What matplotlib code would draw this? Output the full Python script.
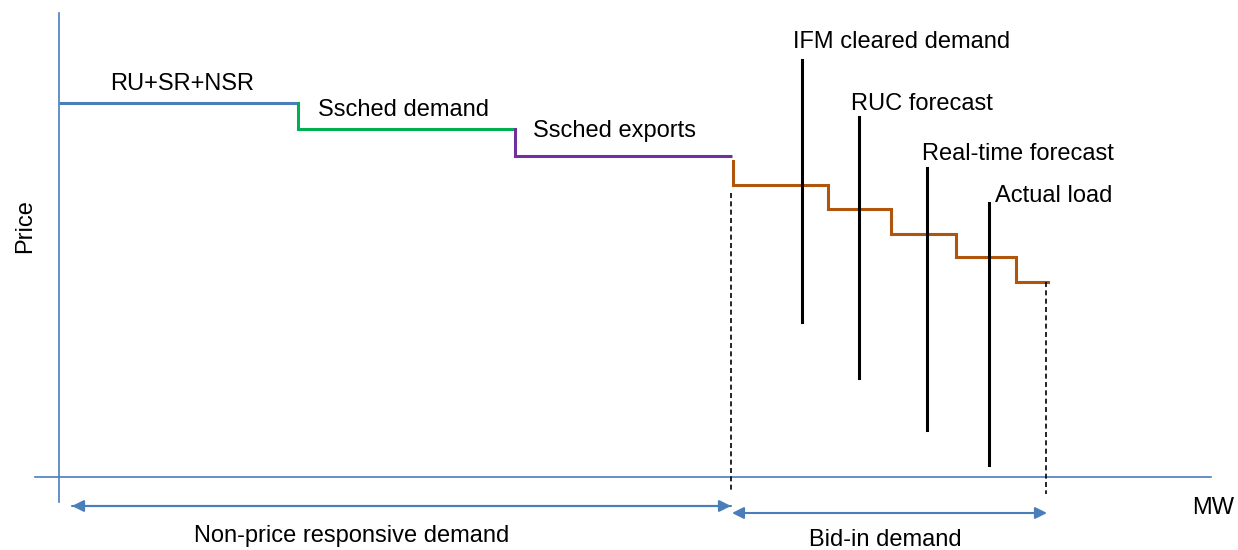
import matplotlib
matplotlib.use('Agg')
from matplotlib import pyplot as plt

plt.rcParams['font.family'] = ['Liberation Sans', 'DejaVu Sans']

# Fixed-demand blocks: (start MW, end MW, price)
fixed_names = ['RU+SR+NSR', 'Ssched demand', 'Ssched exports']
fixed_start = [0, 239, 456]
fixed_end = [239, 456, 673]
fixed_price = [374, 348, 321]
fixed_colors = ['#4a7ebb', '#00b050', '#7030a0']

# Bid-in demand curve (step breakpoints and prices)
bid_mw = [674, 769, 832, 897, 957, 989]
bid_price = [292, 268, 243, 220, 195]
bid_cap = 316

# Demand quantities marked by vertical bars
marker_names = ['IFM cleared demand', 'RUC forecast', 'Real-time forecast', 'Actual load']
marker_mw = [743, 800, 868, 930]
marker_top = [417, 360, 309, 274]
marker_bottom = [155, 99, 47, 12]

BLUE = '#4a7ebb'
ORANGE = '#b0560c'
FS = 17

fig = plt.figure(figsize=(12.38, 5.5), dpi=100)
ax = fig.add_axes([0, 0, 1, 1])
ax.set_xlim(-59, 1179)
ax.set_ylim(-73, 477)
ax.axis('off')

# Axes lines.
ax.plot([0, 0], [-25, 464], color=BLUE, lw=1.2)
ax.plot([-24, 1152], [0, 0], color=BLUE, lw=1.2)

# Fixed blocks with vertical connectors.
for k in range(len(fixed_names)):
    ax.plot([fixed_start[k], fixed_end[k]], [fixed_price[k], fixed_price[k]], color=fixed_colors[k], lw=2.2,
            solid_capstyle='butt')
    if k > 0:
        ax.plot([fixed_start[k], fixed_start[k]], [fixed_price[k - 1], fixed_price[k]], color=fixed_colors[k],
                lw=2.2)

# Bid-in step curve.
xs, ys = [bid_mw[0]], [bid_cap]
for k in range(len(bid_price)):
    xs += [bid_mw[k], bid_mw[k + 1]]
    ys += [bid_price[k], bid_price[k]]
ax.plot(xs, ys, color=ORANGE, lw=2.2, solid_joinstyle='miter')

# Dashed boundaries of the bid-in section.
ax.plot([bid_mw[0] - 2, bid_mw[0] - 2], [284, -13], color='black', lw=1.2, ls=(0, (3, 2)))
ax.plot([bid_mw[-1] - 2, bid_mw[-1] - 2], [bid_price[-1], -17], color='black', lw=1.2, ls=(0, (3, 2)))

# Vertical demand markers.
for k in range(len(marker_names)):
    ax.plot([marker_mw[k], marker_mw[k]], [marker_bottom[k], marker_top[k]], color='black', lw=2.2)

# Labels, positioned by baseline (MW, price).
ax.text(51, 387, fixed_names[0], fontsize=FS, va='baseline')
ax.text(259, 361, fixed_names[1], fontsize=FS, va='baseline')
ax.text(474, 340, fixed_names[2], fontsize=FS, va='baseline')
label_pos = [(734, 429), (792, 367), (863, 317), (936, 275)]
for name, (lx, ly) in zip(marker_names, label_pos):
    ax.text(lx, ly, name, fontsize=FS, va='baseline')

ax.text(-34, 251, 'Price', fontsize=FS, rotation=90, ha='center', va='center')
ax.text(1133, -37, 'MW', fontsize=FS, va='baseline')

# Range arrows.
ax.annotate('', xy=(13, -29), xytext=(672, -29),
            arrowprops=dict(arrowstyle='-|>,head_length=0.7,head_width=0.35', color=BLUE, lw=1.5,
                            shrinkA=0, shrinkB=0))
ax.annotate('', xy=(672, -29), xytext=(13, -29),
            arrowprops=dict(arrowstyle='-|>,head_length=0.7,head_width=0.35', color=BLUE, lw=1.5,
                            shrinkA=0, shrinkB=0))
ax.annotate('', xy=(673, -36), xytext=(988, -36),
            arrowprops=dict(arrowstyle='<|-|>,head_length=0.7,head_width=0.35', color=BLUE, lw=1.5,
                            shrinkA=0, shrinkB=0))
ax.text(293, -65, 'Non-price responsive demand', fontsize=FS, ha='center', va='baseline')
ax.text(826, -69, 'Bid-in demand', fontsize=FS, ha='center', va='baseline')

fig.savefig('out.png', dpi=100)
